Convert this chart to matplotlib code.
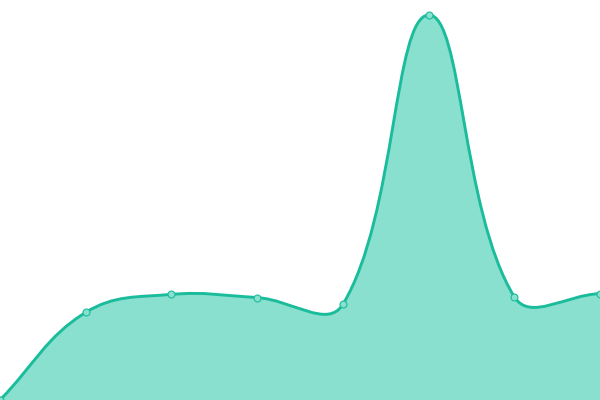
import numpy as np
import matplotlib
matplotlib.use('Agg')
import matplotlib.pyplot as plt
from matplotlib.path import Path
from matplotlib.patches import PathPatch

# values (y axis 0..100)
labels = ['A', 'B', 'C', 'D', 'E', 'F', 'G', 'H']
values = [0, 21.9, 26.4, 25.6, 23.9, 96.25, 25.8, 26.6]

line_color = '#1abc9c'
fill_color = '#89e0ce'
tension = 0.4

W, H = 600, 400
fig = plt.figure(figsize=(W / 100, H / 100), dpi=100)
ax = fig.add_axes([0, 0, 1, 1])
xs = np.arange(len(values))
ax.set_xlim(0, len(values) - 1)
ax.set_ylim(0, 100)
ax.axis('off')

# work in pixel space for the spline, like a canvas chart would
sx = W / (len(values) - 1)
sy = H / 100
px = xs * sx
py = np.array(values) * sy

cps = []
for i in range(len(px)):
    prev = (px[i - 1], py[i - 1]) if i > 0 else (px[i], py[i])
    nxt = (px[i + 1], py[i + 1]) if i < len(px) - 1 else (px[i], py[i])
    cur = (px[i], py[i])
    d01 = np.hypot(cur[0] - prev[0], cur[1] - prev[1])
    d12 = np.hypot(nxt[0] - cur[0], nxt[1] - cur[1])
    s01 = d01 / (d01 + d12) if d01 + d12 else 0
    s12 = d12 / (d01 + d12) if d01 + d12 else 0
    fa, fb = tension * s01, tension * s12
    dx, dy = nxt[0] - prev[0], nxt[1] - prev[1]
    before = (cur[0] - fa * dx, min(max(cur[1] - fa * dy, 0), H))
    after = (cur[0] + fb * dx, min(max(cur[1] + fb * dy, 0), H))
    cps.append((before, after))

verts = [(px[0] / sx, py[0] / sy)]
codes = [Path.MOVETO]
for i in range(1, len(px)):
    a = cps[i - 1][1]
    b = cps[i][0]
    verts += [(a[0] / sx, a[1] / sy), (b[0] / sx, b[1] / sy), (px[i] / sx, py[i] / sy)]
    codes += [Path.CURVE4] * 3

fill_verts = verts + [(xs[-1], 0), (xs[0], 0), verts[0]]
fill_codes = codes + [Path.LINETO, Path.LINETO, Path.CLOSEPOLY]
ax.add_patch(PathPatch(Path(fill_verts, fill_codes), facecolor=fill_color, edgecolor='none'))
ax.add_patch(PathPatch(Path(verts, codes), facecolor='none', edgecolor=line_color, lw=2.1))

ax.plot(xs, values, 'o', ms=5, mfc=fill_color, mec=line_color, mew=0.8)

fig.savefig('out.png', dpi=100)
